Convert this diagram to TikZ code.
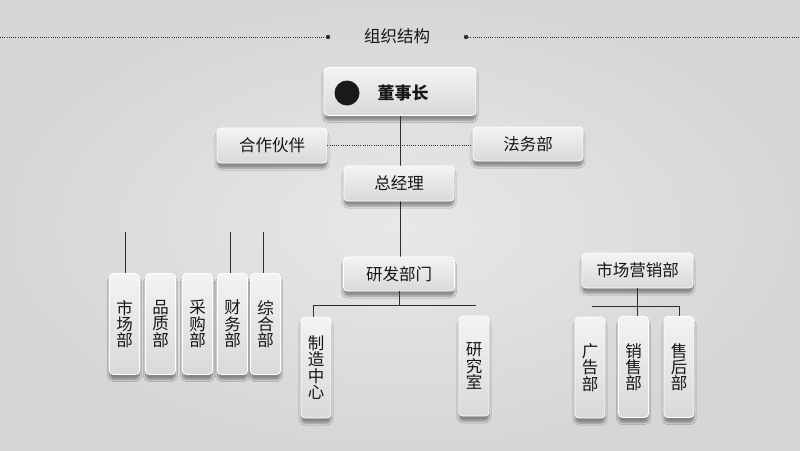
\documentclass[tikz,border=0pt]{standalone}
\usepackage{fontspec}
\setmainfont{Noto Sans CJK SC}
\usetikzlibrary{shadows.blur}
\definecolor{bgmid}{HTML}{E8E8E8}
\definecolor{bgedge}{HTML}{D6D6D6}
\definecolor{boxtop}{HTML}{F3F3F3}
\definecolor{boxbot}{HTML}{D9D9D9}
\definecolor{ink}{HTML}{161616}
\definecolor{linec}{HTML}{2E2E2E}
\tikzset{
  card/.style={rounded corners=4pt, draw=white, line width=0.8pt,
    top color=boxtop, bottom color=boxbot, text=ink,
    blur shadow={shadow blur steps=6, shadow xshift=0pt, shadow yshift=-5pt, shadow opacity=38},
    font=\fontsize{16.5}{17}\selectfont, inner sep=0pt},
  hcard/.style={card, minimum width=110pt, minimum height=35pt},
  vcard/.style={card, minimum width=30pt, minimum height=101pt, align=center,
    font=\fontsize{16.5}{16.3}\selectfont},
  conn/.style={draw=linec, line width=0.7pt},
  dotline/.style={draw=linec, line width=0.8pt, dash pattern=on 1pt off 1.2pt}
}
\begin{document}
\begin{tikzpicture}[x=1pt,y=-1pt]
\useasboundingbox (0,0) rectangle (800,450);
\shade[inner color=bgmid, outer color=bgedge] (0,0) rectangle (800,450);

% title
\node[text=ink, font=\fontsize{16.5}{17}\selectfont] (title) at (397,36) {组织结构};
\coordinate (tl0) at (0,37);
\coordinate (tl1) at (328,37);
\coordinate (tr0) at (466,37);
\coordinate (tr1) at (800,37);
\draw[dotline] (tl0) -- (tl1);
\draw[dotline] (tr0) -- (tr1);
\fill[linec] (tl1) circle (2.2pt);
\fill[linec] (tr0) circle (2.2pt);

% top nodes
\node[hcard, minimum width=152pt, minimum height=48pt] (chair) at (400,91.5) {};
\fill[black!90] (347,93) circle (12.5pt);
\node[text=ink, font=\fontsize{17}{17}\selectfont\bfseries] (chairt) at (403,93) {董事长};
\node[hcard] (partner) at (272,145.5) {合作伙伴};
\node[hcard, minimum height=34pt] (legal) at (528,144) {法务部};

\draw[conn] (chair.south) -- (400,257) coordinate (rdtop);
\draw[dotline, line width=0.7pt] (partner.east) -- (partner.east -| legal.west);

\node[hcard] (gm) at (399,183.5) {总经理};
\node[hcard, minimum width=111pt, minimum height=34pt] (rd) at (399,274) {研发部门};
\node[hcard, minimum width=111pt] (mkt) at (637.5,270.5) {市场营销部};

% left group
\coordinate (l1) at (125,232);
\coordinate (l4) at (230,232);
\coordinate (l5) at (263,232);
\node[vcard] (d1) at (124.5,324) {市\\场\\部};
\node[vcard] (d2) at (160.5,324) {品\\质\\部};
\node[vcard] (d3) at (197.5,324) {采\\购\\部};
\node[vcard] (d4) at (232.5,324) {财\\务\\部};
\node[vcard] (d5) at (265.5,324) {综\\合\\部};
\draw[conn] (l1) -- (l1 |- d1.north);
\draw[conn] (l4) -- (l4 |- d4.north);
\draw[conn] (l5) -- (l5 |- d5.north);

% R&D group
\coordinate (rbl) at (313,305);
\coordinate (rbr) at (476,305);
\node[vcard] (mfg) at (316,367.5) {制\\造\\中\\心};
\node[vcard, minimum height=100pt] (lab) at (474,366) {研\\究\\室};
\draw[conn] (rd.south) -- (rd.south |- rbl);
\draw[conn] (rbl) -- (rbr);
\draw[conn] (rbl) -- (rbl |- mfg.north);

% marketing group
\coordinate (mbl) at (592,306);
\coordinate (mbr) at (679,306);
\coordinate (mbc) at (637,306);
\node[vcard] (ad) at (590,367.5) {广\\告\\部};
\node[vcard] (sales) at (633.5,367) {销\\售\\部};
\node[vcard] (after) at (679,367) {售\\后\\部};
\draw[conn] (mkt.south -| mbc) -- (mbc |- sales.north);
\draw[conn] (mbl) -- (mbr);
\draw[conn] (mbr) -- (mbr |- after.north);
\end{tikzpicture}
\end{document}
